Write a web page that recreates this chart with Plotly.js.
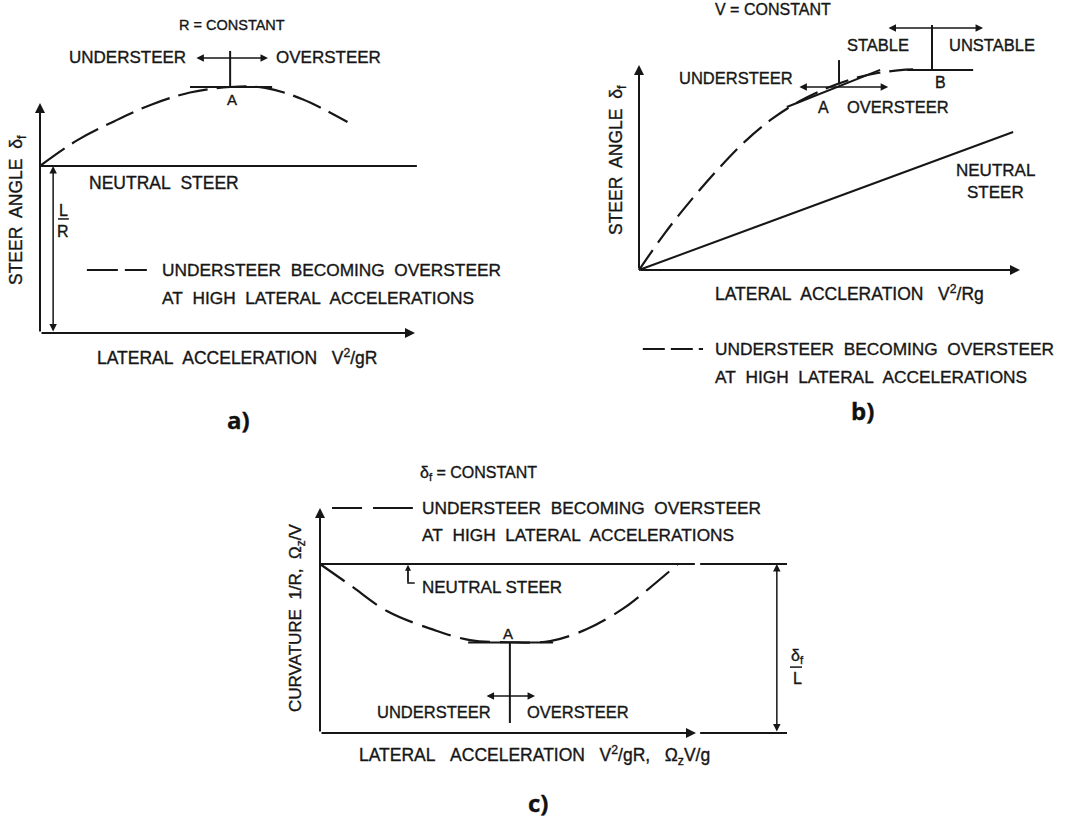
<!DOCTYPE html>
<html>
<head>
<meta charset="utf-8">
<script src="https://cdn.plot.ly/plotly-3.0.1.min.js"></script>
<style>
  html, body { margin: 0; padding: 0; background: #fff; }
  #chart { width: 1069px; height: 821px; }
  /* slightly heavier lettering, like the printed figure */
  #chart .annotation-text { paint-order: stroke; stroke: #161616; stroke-width: 0.35px; }
</style>
</head>
<body>
<div id="chart"></div>
<script>
const W = 1069, H = 821;
const INK = '#161616';
const FONT = 'Liberation Sans, Arial, Helvetica, sans-serif';
const S = '\u00a0 ';   // wide word gap

// ---------- a) steer angle at constant radius ----------
const aCurveX = [0, 1, 2, 3, 4, 5.07, 6, 7, 8.2];
const aCurveY = [1.0, 1.155, 1.27, 1.37, 1.44, 1.473, 1.468, 1.40, 1.263];
const aNeutralX = [0, 10.05], aNeutralY = [1, 1];
const aTangentX = [4.0, 6.19], aTangentY = [1.473, 1.473];
const aMarkX = [5.07, 5.07], aMarkY = [1.473, 1.689];
const aArrowX = [4.13, 6.08], aArrowY = 1.647;
const aDimX = 0.35, aDimY = [0, 1];
const aAxisX = [0, 10], aAxisY = [0, 1.377];
const aLegendX = [1.25, 2.85], aLegendY = [0.377, 0.377];
const aFracX = [0.48, 0.77], aFracY = [0.683, 0.683];

// ---------- b) steer angle at constant speed ----------
const bCurveX = [0, 0.7, 1.4, 2.1, 2.8, 3.5, 4.2, 4.9, 5.6, 6.3, 7.0, 7.4];
const bCurveY = [0, 1.85, 3.48, 4.97, 6.3, 7.38, 8.22, 8.85, 9.32, 9.62, 9.77, 9.78];
const bNeutralX = [0, 9.82], bNeutralY = [0, 6.73];
const bTangentAX = [3.88, 6.33], bTangentAY = [7.95, 9.76];
const bMarkAX = [5.25, 5.25], bMarkAY = [9.05, 10.24];
const bArrowAX = [4.17, 6.54], bArrowAY = 8.93;
const bTangentBX = [7.03, 8.77], bTangentBY = [9.76, 9.76];
const bMarkBX = [7.69, 7.69], bMarkBY = [9.76, 11.95];
const bArrowBX = [6.51, 9.03], bArrowBY = 11.8;
const bAxisX = [0, 10], bAxisY = [0, 10];
const bLegendX = [0.1, 1.68], bLegendY = [-3.85, -3.85];

// ---------- c) curvature at constant steer angle ----------
const cCurveX = [0, 0.8, 1.78, 3.11, 3.99, 5.05, 6.12, 7.10, 8.05, 8.70, 9.52];
const cCurveY = [1.0, 0.875, 0.722, 0.604, 0.550, 0.537, 0.544, 0.615, 0.734, 0.846, 1.0];
const cNeutralX = [0, 9.97], cNeutralY = [1, 1];
const cExtTopX = [10.11, 12.42], cExtTopY = [1, 1];
const cExtBotX = [10.11, 12.42], cExtBotY = [0, 0];
const cTangentX = [3.94, 6.2], cTangentY = [0.535, 0.535];
const cMarkX = [5.05, 5.05], cMarkY = [0.535, 0.059];
const cArrowX = [4.39, 5.72], cArrowY = 0.219;
const cDimX = 12.15, cDimY = [0, 1];
const cAxisX = [0, 10], cAxisY = [0, 1.331];
const cLegendX = [0.32, 2.47], cLegendY = [1.331, 1.331];
const cFootX = [2.34, 2.34, 2.52], cFootY = [0.97, 0.888, 0.888];
const cFracX = [12.5, 12.82], cFracY = [0.39, 0.39];

// ---------- frames: pixel origin, pixel scale, pixel box ----------
function frame(ox, oy, sx, sy, box) {
  const [l, t, r, b] = box;
  return {
    x: { domain: [l / W, r / W], range: [(l - ox) / sx, (r - ox) / sx], visible: false, fixedrange: true },
    y: { domain: [1 - b / H, 1 - t / H], range: [(oy - b) / sy, (oy - t) / sy], visible: false, fixedrange: true }
  };
}
const fa = frame(40, 333, 37.5, 167, [5, 30, 450, 345]);
const fb = frame(639, 270, 38.1, 20.5, [600, 10, 1069, 360]);
const fc = frame(320, 733, 37.6, 169, [290, 455, 830, 750]);

function line(xs, ys, xa, ya, dash, w) {
  return { x: xs, y: ys, xaxis: xa, yaxis: ya, type: 'scatter', mode: 'lines',
    line: { color: INK, width: w || 2, dash: dash || 'solid', shape: 'linear' },
    hoverinfo: 'skip', showlegend: false };
}
function curve(xs, ys, xa, ya, dash) {
  const t = line(xs, ys, xa, ya, dash, 2.2);
  t.line.shape = 'spline';
  t.line.smoothing = 1;
  return t;
}

const traces = [
  curve(aCurveX, aCurveY, 'x', 'y', '30px,9px'),
  line(aNeutralX, aNeutralY, 'x', 'y'),
  line(aTangentX, aTangentY, 'x', 'y'),
  line(aMarkX, aMarkY, 'x', 'y'),
  line(aLegendX, aLegendY, 'x', 'y', '31px,7px'),
  line(aFracX, aFracY, 'x', 'y', 'solid', 1.5),

  curve(bCurveX, bCurveY, 'x2', 'y2', '24px,9px'),
  line(bNeutralX, bNeutralY, 'x2', 'y2'),
  line(bTangentAX, bTangentAY, 'x2', 'y2'),
  line(bMarkAX, bMarkAY, 'x2', 'y2'),
  line(bTangentBX, bTangentBY, 'x2', 'y2'),
  line(bMarkBX, bMarkBY, 'x2', 'y2'),
  line(bLegendX, bLegendY, 'x2', 'y2', '22px,6px'),

  curve(cCurveX, cCurveY, 'x3', 'y3', '30px,10px'),
  line(cNeutralX, cNeutralY, 'x3', 'y3'),
  line(cExtTopX, cExtTopY, 'x3', 'y3'),
  line(cExtBotX, cExtBotY, 'x3', 'y3'),
  line(cTangentX, cTangentY, 'x3', 'y3'),
  line(cMarkX, cMarkY, 'x3', 'y3'),
  line(cLegendX, cLegendY, 'x3', 'y3', '30px,11px,40px'),
  line(cFootX, cFootY, 'x3', 'y3', 'solid', 1.5),
  line(cFracX, cFracY, 'x3', 'y3', 'solid', 1.5)
];

// arrows drawn in data units of a panel
function arrow(xa, ya, x0, y0, x1, y1, both, w) {
  return { xref: xa, yref: ya, axref: xa, ayref: ya, ax: x0, ay: y0, x: x1, y: y1,
    text: '', showarrow: true, arrowhead: 2, arrowsize: 1, arrowwidth: w || 2,
    arrowcolor: INK, arrowside: both ? 'end+start' : 'end', standoff: 0, startstandoff: 0 };
}
// text placed by page pixel
function txt(t, px, py, anchor, size, opt) {
  return Object.assign({ xref: 'paper', yref: 'paper', x: px / W, y: 1 - py / H,
    xanchor: anchor || 'left', yanchor: 'middle', text: t, showarrow: false,
    font: { family: FONT, size: size || 17, color: INK } }, opt || {});
}
function ytitle(t, px, py, size) {
  return txt(t, px, py, 'center', size, { textangle: -90 });
}
function tag(t, px, py) {
  return txt('<b>' + t + '</b>', px, py, 'center', 24,
    { font: { family: 'Open Sans, Noto Sans, sans-serif', size: 24, color: '#111' } });
}

const annotations = [
  // panel a
  arrow('x', 'y', 0, 0, aAxisX[1], 0),
  arrow('x', 'y', 0, 0, 0, aAxisY[1]),
  arrow('x', 'y', aDimX, aDimY[0], aDimX, aDimY[1], true, 1.5),
  arrow('x', 'y', aArrowX[0], aArrowY, aArrowX[1], aArrowY, true, 1.5),
  txt('R = CONSTANT', 232, 25, 'center', 14.5),
  txt('UNDERSTEER', 188, 58, 'right', 17),
  txt('OVERSTEER', 274, 58, 'left', 17),
  txt('A', 232, 99, 'center', 15),
  txt('NEUTRAL' + S + 'STEER', 87, 183, 'left', 17.5),
  txt('L', 63, 211, 'center', 16),
  txt('R', 63, 231, 'center', 16),
  txt('UNDERSTEER' + S + 'BECOMING' + S + 'OVERSTEER', 160, 270, 'left', 17.3),
  txt('AT' + S + 'HIGH' + S + 'LATERAL' + S + 'ACCELERATIONS', 160, 298, 'left', 17.3),
  ytitle('STEER' + S + 'ANGLE' + S + 'δ<sub>f</sub>', 18, 210, 17.5),
  txt('LATERAL' + S + 'ACCELERATION' + S + '\u00a0V<sup>2</sup>/gR', 95, 357, 'left', 17.5),
  tag('a)', 238, 420),

  // panel b
  arrow('x2', 'y2', 0, 0, bAxisX[1], 0),
  arrow('x2', 'y2', 0, 0, 0, bAxisY[1]),
  arrow('x2', 'y2', bArrowAX[0], bArrowAY, bArrowAX[1], bArrowAY, true, 1.5),
  arrow('x2', 'y2', bArrowBX[0], bArrowBY, bArrowBX[1], bArrowBY, true, 1.5),
  txt('V = CONSTANT', 713, 10, 'left', 16),
  txt('STABLE', 845, 45, 'left', 16.5),
  txt('UNSTABLE', 947, 45, 'left', 16.5),
  txt('UNDERSTEER', 677, 78, 'left', 16.5),
  txt('A', 823, 107, 'center', 16),
  txt('OVERSTEER', 845, 107, 'left', 16.5),
  txt('B', 940, 82, 'center', 16),
  txt('NEUTRAL', 995, 170, 'center', 17),
  txt('STEER', 995, 192, 'center', 17),
  ytitle('STEER' + S + 'ANGLE' + S + 'δ<sub>f</sub>', 618, 160, 17.5),
  txt('LATERAL' + S + 'ACCLERATION' + S + '\u00a0V<sup>2</sup>/Rg', 713, 293, 'left', 17.5),
  txt('UNDERSTEER' + S + 'BECOMING' + S + 'OVERSTEER', 713, 349, 'left', 17.3),
  txt('AT' + S + 'HIGH' + S + 'LATERAL' + S + 'ACCELERATIONS', 713, 377, 'left', 17.3),
  tag('b)', 862, 410),

  // panel c
  arrow('x3', 'y3', 0, 0, cAxisX[1], 0),
  arrow('x3', 'y3', 0, 0, 0, cAxisY[1]),
  arrow('x3', 'y3', cArrowX[0], cArrowY, cArrowX[1], cArrowY, true, 1.5),
  arrow('x3', 'y3', cDimX, cDimY[0], cDimX, cDimY[1], true, 1.5),
  arrow('x3', 'y3', cFootX[1], cFootY[1], cFootX[0], 0.995, false, 1.2),
  txt('δ<sub>f</sub> = CONSTANT', 418, 473, 'left', 16),
  txt('UNDERSTEER' + S + 'BECOMING' + S + 'OVERSTEER', 420, 508, 'left', 17.3),
  txt('AT' + S + 'HIGH' + S + 'LATERAL' + S + 'ACCELERATIONS', 420, 535, 'left', 17.3),
  txt('NEUTRAL STEER', 420, 587, 'left', 17),
  txt('A', 508, 633, 'center', 15),
  txt('UNDERSTEER', 493, 712, 'right', 16.5),
  txt('OVERSTEER', 525, 712, 'left', 16.5),
  txt('δ<sub>f</sub>', 797, 656, 'center', 16),
  txt('L', 797, 678, 'center', 16),
  ytitle('CURVATURE' + S + '1/R,' + S + 'Ω<sub>z</sub>/V', 297, 618, 17),
  txt('LATERAL' + S + '\u00a0ACCELERATION' + S + '\u00a0V<sup>2</sup>/gR,' + S + '\u00a0Ω<sub>z</sub>V/g', 357, 755, 'left', 17.5),
  tag('c)', 538, 802)
];

const layout = {
  width: W, height: H,
  margin: { l: 0, r: 0, t: 0, b: 0, pad: 0 },
  paper_bgcolor: '#fff', plot_bgcolor: 'rgba(0,0,0,0)',
  showlegend: false,
  xaxis: Object.assign({ anchor: 'y' }, fa.x), yaxis: Object.assign({ anchor: 'x' }, fa.y),
  xaxis2: Object.assign({ anchor: 'y2' }, fb.x), yaxis2: Object.assign({ anchor: 'x2' }, fb.y),
  xaxis3: Object.assign({ anchor: 'y3' }, fc.x), yaxis3: Object.assign({ anchor: 'x3' }, fc.y),
  annotations: annotations
};

Plotly.newPlot('chart', traces, layout, { staticPlot: true, displayModeBar: false });
</script>
</body>
</html>
